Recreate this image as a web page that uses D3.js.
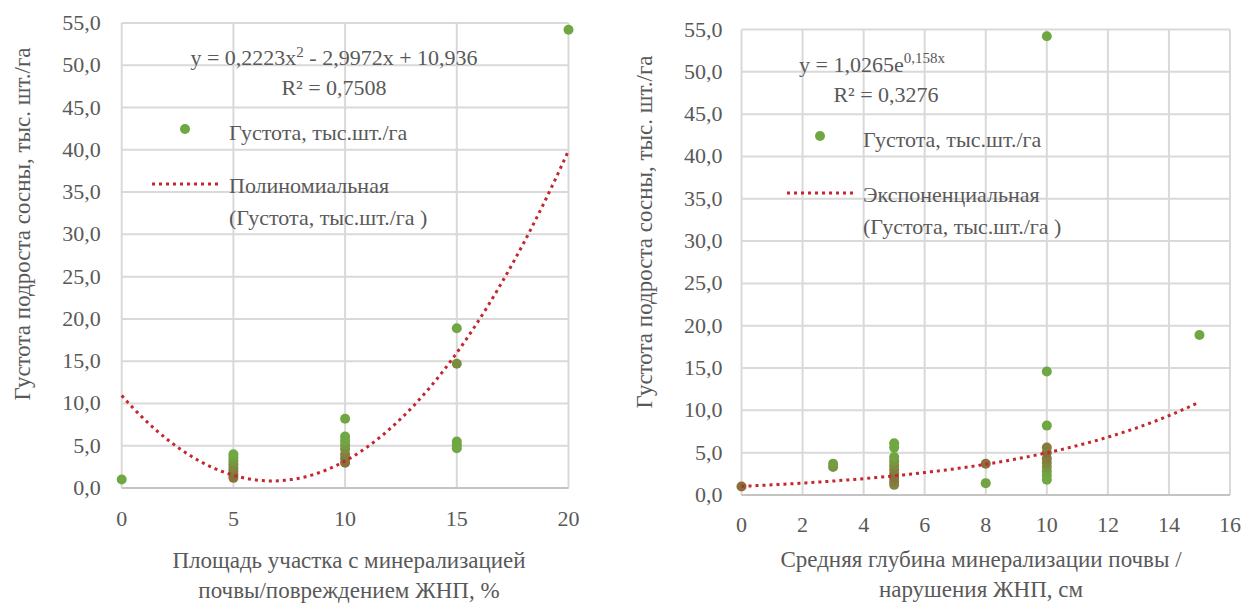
<!DOCTYPE html>
<html>
<head>
<meta charset="utf-8">
<script src="https://cdn.jsdelivr.net/npm/d3@7"></script>
<style>
  @font-face {font-family: 'ChartSerif'; src: local('Liberation Serif'), local('LiberationSerif');}
  body {margin: 0; background: #fff;}
</style>
</head>
<body>
<script>
// ---- данные ----
const yTicks = [0, 5, 10, 15, 20, 25, 30, 35, 40, 45, 50, 55]
const areaTicks = [0, 5, 10, 15, 20]
const depthTicks = [0, 2, 4, 6, 8, 10, 12, 14, 16]

// площадь участка с минерализацией, %
const areaPct = [0, 5, 5, 5, 5, 5, 5, 5, 5, 10, 10, 10, 10, 10, 10, 10, 10, 15, 15, 15, 15, 15, 20]
const densityA = [1.0, 1.2, 1.6, 2.0, 2.4, 2.8, 3.2, 3.6, 4.0, 3.0, 3.5, 4.0, 4.6, 5.1, 5.6, 6.1, 8.2, 18.9, 14.7, 5.5, 5.1, 4.7, 54.2]

// средняя глубина минерализации, см
const depthCm = [0, 3, 3, 5, 5, 5, 5, 5, 5, 5, 5, 5, 5, 8, 8, 10, 10, 10, 10, 10, 10, 10, 10, 10, 10, 10, 15]
const densityD = [1.0, 3.3, 3.7, 1.2, 1.6, 2.0, 2.5, 3.0, 3.5, 4.0, 4.5, 5.6, 6.1, 3.7, 1.4, 1.8, 2.3, 2.8, 3.3, 3.8, 4.3, 5.0, 5.6, 8.2, 14.6, 54.2, 18.9]

// линии тренда (коэффициенты с диаграммы)
const polyCoef = [0.2223, -2.9972, 10.936]
const expCoef = [1.0265, 0.158]

const seriesName = 'Густота, тыс.шт./га'
const yTitle = 'Густота подроста сосны, тыс. шт./га'

const FONT = "'Liberation Serif', ChartSerif, serif"
const svg = d3.select('body').append('svg')
  .attr('width', 1245).attr('height', 603)

const fmt = v => d3.format('.1f')(v).replace('.', ',')
const green = '#6fa843'
const brown = '#8a6d3b'
const red = '#c3282f'

// весь текст кладём прямо в корень svg
function label(x, y, size, str) {
  return svg.append('text').attr('x', x).attr('y', y)
    .attr('font-family', FONT).attr('font-size', size).attr('fill', '#595959').text(str)
}

function dotted(sel) {
  return sel.attr('fill', 'none').attr('stroke', red)
    .attr('stroke-width', 3).attr('stroke-dasharray', '3,4')
}

function panel(o) {
  const x = d3.scaleLinear().domain(o.xDomain).range(o.xRange)
  const y = d3.scaleLinear().domain([0, 55]).range(o.yRange)
  const g = svg.append('g')

  // сетка
  g.selectAll('.h').data(yTicks).enter().append('line')
    .attr('x1', o.xRange[0]).attr('x2', o.xRange[1])
    .attr('y1', d => y(d)).attr('y2', d => y(d))
    .attr('stroke', '#d9d9d9').attr('stroke-width', 2)
  g.selectAll('.v').data(o.xTicks).enter().append('line')
    .attr('y1', o.yRange[0]).attr('y2', o.yRange[1])
    .attr('x1', d => x(d)).attr('x2', d => x(d))
    .attr('stroke', '#d9d9d9').attr('stroke-width', 2)
  g.append('line')
    .attr('x1', o.xRange[0]).attr('x2', o.xRange[1])
    .attr('y1', y(0)).attr('y2', y(0))
    .attr('stroke', '#c4c4c4').attr('stroke-width', 2)

  // подписи делений
  yTicks.forEach(v => {
    label(o.xRange[0] - o.yPad, y(v), 22, fmt(v))
      .attr('text-anchor', 'end').attr('dy', '0.32em')
  })
  o.xTicks.forEach(v => {
    label(x(v), y(0) + o.xPad, 22, v)
      .attr('text-anchor', 'middle').attr('dy', '0.71em')
  })

  // точки
  g.append('g').selectAll('circle').data(o.xs).enter().append('circle')
    .attr('cx', d => x(d))
    .attr('cy', (d, i) => y(o.ys[i]))
    .attr('r', 5)
    .attr('fill', (d, i) => d3.interpolateRgb(brown, green)(Math.min(1, Math.abs(o.ys[i] - o.trend(d)) / 2.5)))

  // тренд
  const tx = d3.range(o.trendDomain[0], o.trendDomain[1] + 0.001, 0.1)
  dotted(g.append('path'))
    .attr('d', d3.line().x(d => x(d)).y(d => y(o.trend(d)))(tx))

  // подписи осей
  label(0, 0, 23, yTitle)
    .attr('transform', `translate(${o.yTitleX},${o.yTitleY}) rotate(-90)`)
    .attr('text-anchor', 'middle')
  o.xTitle.forEach((t, i) => {
    label(o.xTitleX, o.xTitleY + i * 30, 23, t).attr('text-anchor', 'middle')
  })

  // уравнение
  o.equation()

  // легенда
  const L = o.legend
  g.append('circle').attr('cx', L.mx).attr('cy', L.my).attr('r', 5).attr('fill', green)
  label(L.tx, L.ty1, 22, seriesName)
  dotted(g.append('line'))
    .attr('x1', L.lx1).attr('x2', L.lx2).attr('y1', L.ly).attr('y2', L.ly)
  label(L.tx, L.ty2, 22, L.name)
  label(L.tx, L.ty2 + 32, 22, `(${seriesName} )`)
}

panel({
  xDomain: [0, 20], xRange: [121.7, 568.5], yRange: [488, 23],
  xTicks: areaTicks, xs: areaPct, ys: densityA,
  yPad: 21, xPad: 22,
  trend: v => polyCoef[0] * v * v + polyCoef[1] * v + polyCoef[2],
  trendDomain: [0, 20],
  yTitleX: 30, yTitleY: 224,
  xTitle: ['Площадь участка с минерализацией', 'почвы/повреждением ЖНП, %'],
  xTitleX: 349, xTitleY: 568,
  equation: () => {
    const t = label(334, 65, 22, '').attr('text-anchor', 'middle')
    t.append('tspan').text('y = 0,2223x')
    t.append('tspan').attr('dy', -8).attr('font-size', 15).text('2')
    t.append('tspan').attr('dy', 8).text(' - 2,9972x + 10,936')
    label(334, 95, 22, 'R² = 0,7508').attr('text-anchor', 'middle')
  },
  legend: {mx: 185, my: 129, tx: 229, ty1: 140, lx1: 152, lx2: 218, ly: 184, ty2: 193, name: 'Полиномиальная'}
})

panel({
  xDomain: [0, 16], xRange: [741.5, 1230], yRange: [495, 29.5],
  xTicks: depthTicks, xs: depthCm, ys: densityD,
  yPad: 19, xPad: 21,
  trend: v => expCoef[0] * Math.exp(expCoef[1] * v),
  trendDomain: [0, 15],
  yTitleX: 652, yTitleY: 232,
  xTitle: ['Средняя глубина минерализации почвы /', 'нарушения ЖНП, см'],
  xTitleX: 981, xTitleY: 567,
  equation: () => {
    const t = label(799, 72, 22, '')
    t.append('tspan').text('y = 1,0265e')
    t.append('tspan').attr('dy', -9).attr('font-size', 15).text('0,158x')
    label(886, 102, 22, 'R² = 0,3276').attr('text-anchor', 'middle')
  },
  legend: {mx: 820, my: 136, tx: 863, ty1: 147, lx1: 787, lx2: 853, ly: 193, ty2: 202, name: 'Экспоненциальная'}
})
</script>
</body>
</html>
